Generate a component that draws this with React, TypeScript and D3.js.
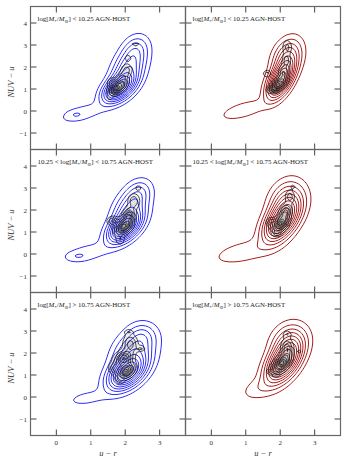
import React from "react";
import * as d3 from "d3";

// ---------- data ----------
const xDomain: [number, number] = [-0.75, 3.75];
const yDomain: [number, number] = [-1.75, 4.75];
const xTicks = [0, 1, 2, 3];
const yTicks = [-1, 0, 1, 2, 3, 4];
const xTitle = "u − r";
const yTitle = "NUV − u";

// mass-bin label pieces
const binPrefix = ["", "10.25 < ", ""];
const binSuffix = [" < 10.25 AGN-HOST", " < 10.75 AGN-HOST", " > 10.75 AGN-HOST"];

// density components: [u-r, NUV-u, sigmaX, sigmaY, rho, weight]
type Comp = [number, number, number, number, number, number];

const blueLow: Comp[] = [
  [1.82, 1.05, 0.27, 0.38, 0.5, 1.0],
  [2.1, 1.9, 0.29, 0.6, 0.4, 0.45],
  [2.3, 2.8, 0.23, 0.4, 0.2, 0.15],
  [0.75, -0.1, 0.45, 0.3, 0.55, 0.08],
  [0.55, -0.17, 0.15, 0.12, 0, 0.04],
];
const blueMid: Comp[] = [
  [1.98, 1.2, 0.28, 0.4, 0.5, 1.0],
  [2.15, 2.0, 0.3, 0.6, 0.4, 0.45],
  [2.4, 2.8, 0.22, 0.35, 0.2, 0.12],
  [0.9, 0.05, 0.5, 0.32, 0.5, 0.08],
  [0.62, -0.1, 0.18, 0.12, 0, 0.05],
];
const blueHigh: Comp[] = [
  [2.05, 1.1, 0.32, 0.45, 0.45, 1.0],
  [2.25, 2.0, 0.35, 0.6, 0.3, 0.45],
  [2.5, 2.8, 0.25, 0.35, 0, 0.12],
  [0.9, -0.05, 0.45, 0.27, 0.4, 0.06],
];
const redLow: Comp[] = [
  [2.02, 1.45, 0.23, 0.5, 0.55, 1.0],
  [2.2, 2.45, 0.25, 0.5, 0.3, 0.35],
  [0.95, 0.05, 0.45, 0.3, 0.6, 0.085],
];
const redMid: Comp[] = [
  [2.03, 1.5, 0.3, 0.55, 0.5, 1.0],
  [2.2, 2.4, 0.3, 0.55, 0.2, 0.35],
  [0.95, 0.1, 0.6, 0.38, 0.5, 0.08],
];
const redHigh: Comp[] = [
  [2.1, 1.6, 0.3, 0.55, 0.5, 1.0],
  [2.25, 2.5, 0.3, 0.5, 0.2, 0.3],
  [1.4, 0.4, 0.35, 0.35, 0.4, 0.07],
];

// AGN-host (black) components per panel
const agnBlueLow: Comp[] = [
  [1.68, 0.98, 0.1, 0.15, 0.3, 1.0],
  [1.85, 1.15, 0.12, 0.18, 0.3, 0.8],
  [1.62, 1.3, 0.08, 0.12, 0, 0.4],
  [1.95, 1.55, 0.1, 0.18, 0.3, 0.45],
  [2.05, 1.9, 0.1, 0.15, 0, 0.3],
  [2.08, 2.4, 0.06, 0.1, 0, 0.25],
  [2.3, 3.02, 0.1, 0.06, 0, 0.2],
  [1.55, 0.6, 0.06, 0.08, 0, 0.15],
];
const agnRedLow: Comp[] = [
  [1.85, 1.05, 0.12, 0.12, 0.3, 1.0],
  [2.0, 1.3, 0.12, 0.15, 0.3, 0.8],
  [1.62, 1.7, 0.07, 0.1, 0, 0.3],
  [2.1, 1.75, 0.08, 0.2, 0, 0.45],
  [2.18, 2.3, 0.07, 0.2, 0, 0.35],
  [2.2, 2.9, 0.08, 0.2, 0, 0.3],
];
const agnBlueMid: Comp[] = [
  [1.95, 1.25, 0.14, 0.2, 0.3, 1.0],
  [2.1, 1.75, 0.1, 0.2, 0.2, 0.7],
  [1.65, 1.5, 0.1, 0.12, 0, 0.4],
  [1.85, 0.65, 0.08, 0.15, 0, 0.2],
  [2.25, 2.4, 0.1, 0.2, 0, 0.35],
  [2.38, 3.0, 0.06, 0.06, 0, 0.2],
];
const agnRedMid: Comp[] = [
  [2.0, 1.35, 0.13, 0.2, 0.3, 1.0],
  [2.15, 1.9, 0.1, 0.2, 0.2, 0.6],
  [1.72, 1.45, 0.08, 0.12, 0, 0.3],
  [1.9, 0.95, 0.08, 0.1, 0, 0.3],
  [2.28, 2.6, 0.08, 0.18, 0, 0.3],
  [2.37, 3.05, 0.05, 0.07, 0, 0.15],
];
const agnBlueHigh: Comp[] = [
  [2.02, 1.2, 0.15, 0.2, 0.3, 1.0],
  [1.95, 1.75, 0.15, 0.2, 0.2, 0.85],
  [1.7, 1.3, 0.1, 0.15, 0, 0.4],
  [2.15, 2.4, 0.12, 0.25, 0, 0.45],
  [2.45, 2.2, 0.08, 0.08, 0, 0.25],
  [1.85, 0.75, 0.08, 0.1, 0, 0.2],
  [2.1, 2.95, 0.08, 0.08, 0, 0.2],
];
const agnRedHigh: Comp[] = [
  [2.05, 1.55, 0.14, 0.22, 0.4, 1.0],
  [1.85, 1.2, 0.1, 0.15, 0, 0.4],
  [2.2, 2.2, 0.1, 0.25, 0, 0.5],
  [2.55, 2.05, 0.05, 0.06, 0, 0.15],
  [2.2, 2.85, 0.08, 0.1, 0, 0.2],
  [1.7, 1.15, 0.06, 0.06, 0, 0.15],
];

const colorLevels = [0.035, 0.09, 0.16, 0.24, 0.33, 0.43, 0.54, 0.66, 0.78, 0.9];
const agnLevels = [0.08, 0.2, 0.35, 0.5, 0.65, 0.8, 0.92];

const leftColor = "#2e2ef5";
const rightColor = "#a51d1d";

// ---------- layout ----------
const W = 349;
const H = 465;
const colX = [30.5, 185.5];
const panelW = 155;
const rowY = [6.5, 149.5, 292.5];
const panelH = 143;

function density(comps: Comp[], x: number, y: number) {
  let s = 0;
  for (const [cx, cy, sx, sy, r, w] of comps) {
    const dx = (x - cx) / sx;
    const dy = (y - cy) / sy;
    s += w * Math.exp((-0.5 * (dx * dx - 2 * r * dx * dy + dy * dy)) / (1 - r * r));
  }
  return s;
}

function contourPaths(
  comps: Comp[],
  levels: number[],
  xs: d3.ScaleLinear<number, number>,
  ys: d3.ScaleLinear<number, number>,
  res: number
) {
  const [x0, x1] = xs.range();
  const [y1, y0] = ys.range();
  const nx = Math.ceil((x1 - x0) / res);
  const ny = Math.ceil((y1 - y0) / res);
  const vals = new Array(nx * ny);
  let mx = 0;
  for (let j = 0; j < ny; j++) {
    for (let i = 0; i < nx; i++) {
      const v = density(comps, xs.invert(x0 + (i + 0.5) * res), ys.invert(y0 + (j + 0.5) * res));
      vals[i + j * nx] = v;
      if (v > mx) mx = v;
    }
  }
  const gen = d3.contours().size([nx, ny]).thresholds(levels.map((l) => l * mx));
  const path = d3.geoPath(d3.geoIdentity().scale(res).translate([x0, y0]) as any);
  return gen(vals).map((c) => path(c) || "");
}

const rows = [
  { left: blueLow, right: redLow, agnL: agnBlueLow, agnR: agnRedLow },
  { left: blueMid, right: redMid, agnL: agnBlueMid, agnR: agnRedMid },
  { left: blueHigh, right: redHigh, agnL: agnBlueHigh, agnR: agnRedHigh },
];

const serif = "'Liberation Serif', 'DejaVu Serif', serif";

function BinLabel({ x, y, row }: { x: number; y: number; row: number }) {
  return (
    <text x={x} y={y} fontFamily={serif} fontSize={6.9} fill="#222">
      {binPrefix[row]}log[
      <tspan fontStyle="italic">M</tspan>
      <tspan fontSize={4.8} dy={1.5}>*</tspan>
      <tspan dy={-1.5}>/</tspan>
      <tspan fontStyle="italic">M</tspan>
      <tspan fontSize={4.8} dy={1.5}>⊙</tspan>
      <tspan dy={-1.5}>]</tspan>
      {binSuffix[row]}
    </text>
  );
}

function Panel({ row, col }: { row: number; col: number }) {
  const px = colX[col];
  const py = rowY[row];
  const xs = d3.scaleLinear().domain(xDomain).range([px, px + panelW]);
  const ys = d3.scaleLinear().domain(yDomain).range([py + panelH, py]);
  const r = rows[row];
  const comps = col === 0 ? r.left : r.right;
  const agn = col === 0 ? r.agnL : r.agnR;
  const color = col === 0 ? leftColor : rightColor;
  const colored = contourPaths(comps, colorLevels, xs, ys, 1);
  const black = contourPaths(agn, agnLevels, xs, ys, 2.4);
  const tl = 6;
  const clipId = `clip-${row}-${col}`;
  return (
    <g>
      <clipPath id={clipId}>
        <rect x={px} y={py} width={panelW} height={panelH} />
      </clipPath>
      <g clipPath={`url(#${clipId})`}>
        {black.map((d, i) => (
          <path key={"f" + i} d={d} fill="#000" fillOpacity={0.06} stroke="none" />
        ))}
        {colored.map((d, i) => (
          <path key={"c" + i} d={d} fill="none" stroke={color} strokeWidth={1} strokeLinejoin="round" />
        ))}
        {black.map((d, i) => (
          <path key={"b" + i} d={d} fill="none" stroke="#111" strokeWidth={0.75} />
        ))}
      </g>
      {xTicks.map((t) => (
        <g key={"xt" + t}>
          <line x1={xs(t)} x2={xs(t)} y1={py} y2={py + tl} stroke="#444" strokeWidth={1} />
          <line x1={xs(t)} x2={xs(t)} y1={py + panelH} y2={py + panelH - tl} stroke="#444" strokeWidth={1} />
        </g>
      ))}
      {yTicks.map((t) => (
        <g key={"yt" + t}>
          <line x1={px} x2={px + tl} y1={ys(t)} y2={ys(t)} stroke="#444" strokeWidth={1} />
          <line x1={px + panelW} x2={px + panelW - tl} y1={ys(t)} y2={ys(t)} stroke="#444" strokeWidth={1} />
        </g>
      ))}
      <rect x={px} y={py} width={panelW} height={panelH} fill="none" stroke="#666" strokeWidth={1.2} />
      <BinLabel x={px + 7} y={py + 14.5} row={row} />
      {col === 0 &&
        yTicks.map((t) => (
          <text key={"yl" + t} x={px - 3.5} y={ys(t) + 2.5} textAnchor="end" fontFamily={serif} fontSize={7} fill="#333">
            {t < 0 ? "−" + Math.abs(t) : String(t)}
          </text>
        ))}
      {col === 0 && (
        <text
          transform={`translate(${14},${py + panelH / 2 + 4}) rotate(-90)`}
          textAnchor="middle"
          fontFamily={serif}
          fontStyle="italic"
          fontSize={8.5}
          fill="#333"
        >
          {yTitle}
        </text>
      )}
      {row === 2 &&
        xTicks.map((t) => (
          <text key={"xl" + t} x={xs(t)} y={py + panelH + 9.5} textAnchor="middle" fontFamily={serif} fontSize={7} fill="#333">
            {String(t)}
          </text>
        ))}
      {row === 2 && (
        <text x={px + panelW / 2} y={py + panelH + 20} textAnchor="middle" fontFamily={serif} fontStyle="italic" fontSize={8.5} fill="#333">
          {xTitle}
        </text>
      )}
    </g>
  );
}

export default function App() {
  return (
    <svg
      width={W}
      height={H}
      viewBox={`0 0 ${W} ${H}`}
      style={{ position: "absolute", left: 0, top: 0, background: "#fff" }}
    >
      <rect x={0} y={0} width={W} height={H} fill="#fff" />
      {[0, 1, 2].map((row) => [0, 1].map((col) => <Panel key={`${row}-${col}`} row={row} col={col} />))}
    </svg>
  );
}
